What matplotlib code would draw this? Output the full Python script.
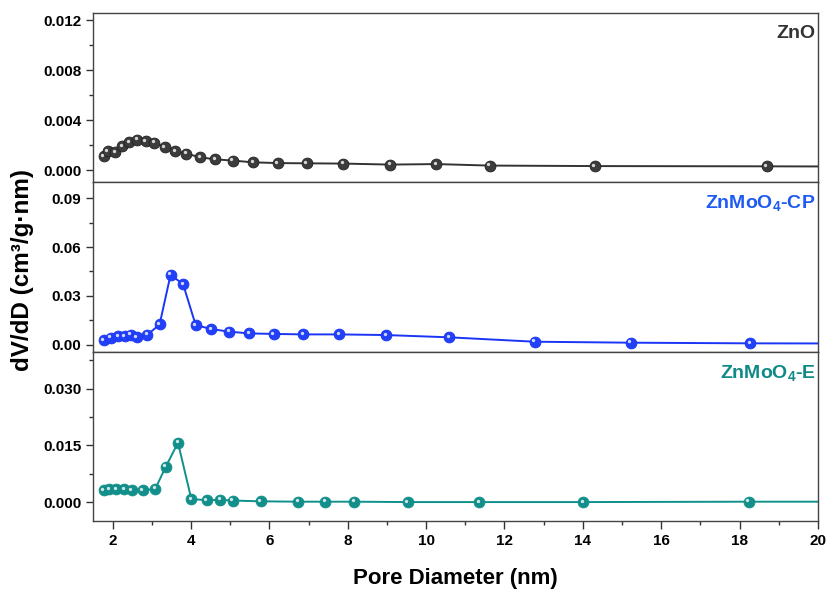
import matplotlib
matplotlib.use('Agg')
import matplotlib.pyplot as plt
from matplotlib.transforms import offset_copy
from matplotlib.ticker import MultipleLocator, FormatStrFormatter

plt.rcParams['font.family'] = ['Liberation Sans', 'DejaVu Sans']
plt.rcParams['font.weight'] = 'bold'
plt.rcParams['mathtext.fontset'] = 'custom'
plt.rcParams['mathtext.rm'] = 'Liberation Sans:bold'
plt.rcParams['mathtext.bf'] = 'Liberation Sans:bold'

# ZnO
x_zno = [1.77, 1.88, 2.07, 2.24, 2.43, 2.63, 2.85, 3.07, 3.33, 3.60, 3.88, 4.24,
         4.62, 5.07, 5.59, 6.21, 6.95, 7.88, 9.08, 10.26, 11.62, 14.30, 18.69]
y_zno = [0.00114, 0.00154, 0.00146, 0.00192, 0.00224, 0.00246, 0.00234, 0.00222,
         0.00186, 0.00154, 0.00134, 0.00104, 0.00088, 0.00078, 0.00064, 0.00058,
         0.00056, 0.00054, 0.00046, 0.00050, 0.00038, 0.00034, 0.00032]
# ZnMoO4-CP
x_cp = [1.77, 1.95, 2.14, 2.31, 2.46, 2.62, 2.89, 3.20, 3.48, 3.80, 4.12, 4.51,
        4.97, 5.49, 6.11, 6.86, 7.78, 8.98, 10.59, 12.77, 15.22, 18.27]
y_cp = [0.0029, 0.0043, 0.0051, 0.0051, 0.0061, 0.0047, 0.0061, 0.0124, 0.0429,
        0.0372, 0.0121, 0.0096, 0.0080, 0.0069, 0.0066, 0.0063, 0.0063, 0.0059,
        0.0045, 0.0018, 0.0012, 0.0008]
# ZnMoO4-E
x_e = [1.77, 1.92, 2.10, 2.29, 2.49, 2.77, 3.09, 3.36, 3.67, 4.01, 4.40, 4.74,
       5.07, 5.78, 6.73, 7.43, 8.17, 9.53, 11.36, 14.01, 18.23]
y_e = [0.0031, 0.0034, 0.0034, 0.0034, 0.0032, 0.0031, 0.0035, 0.0094, 0.0157,
       0.0008, 0.0005, 0.0006, 0.0004, 0.0002, 0.0001, 0.0001, 0.0001, 0.0,
       0.0, 0.0, 0.0001]
# last point past 20 nm, line runs off the right edge
tail_x = 24.0
tail = [0.00028, 0.0006, 0.0001]

panels = [
    (x_zno, y_zno, '#333333', '#3c3c3c', 'ZnO', '#333333',
     (-0.00096, 0.0126), 0.004, '%.3f'),
    (x_cp, y_cp, '#1a35f5', '#2140f8', 'ZnMoO$_4$-CP', '#1f5af2',
     (-0.0043, 0.0998), 0.03, '%.2f'),
    (x_e, y_e, '#10908b', '#128f8a', 'ZnMoO$_4$-E', '#0f8a86',
     (-0.005, 0.0398), 0.015, '%.3f'),
]

fig = plt.figure(figsize=(8.3, 5.9), dpi=100)
gs = fig.add_gridspec(3, 1, left=0.112, right=0.9855, top=0.978, bottom=0.117, hspace=0)

for i, (xs, ys, lc, mc, name, tc, ylim, step, fmt) in enumerate(panels):
    ax = fig.add_subplot(gs[i])
    ax.plot(xs + [tail_x], ys + [tail[i]], '-', color=lc, lw=1.4, zorder=2)
    ax.plot(xs, ys, 'o', ms=7.8, mfc=mc, mec='#222222' if i == 0 else lc, mew=0.6, zorder=3)
    hl = offset_copy(ax.transData, fig=fig, x=-1.0, y=1.0, units='points')
    ax.plot(xs, ys, 'o', ms=2.4, mfc='white', mec='none', alpha=0.8, transform=hl, zorder=4)
    ax.set_xlim(1.5, 20)
    ax.set_ylim(*ylim)
    ax.yaxis.set_major_locator(MultipleLocator(step))
    ax.yaxis.set_minor_locator(MultipleLocator(step / 2))
    ax.yaxis.set_major_formatter(FormatStrFormatter(fmt))
    ax.xaxis.set_major_locator(MultipleLocator(2))
    ax.xaxis.set_minor_locator(MultipleLocator(1))
    ax.tick_params(axis='y', which='both', direction='out', labelsize=11, width=1, color='#333333')
    ax.tick_params(axis='y', which='major', length=5)
    ax.tick_params(axis='y', which='minor', length=3)
    for s in ax.spines.values():
        s.set_color('#444444')
        s.set_linewidth(1.0)
    for lab in ax.get_yticklabels():
        lab.set_fontweight('bold')
    if i < 2:
        ax.tick_params(axis='x', which='both', bottom=False, labelbottom=False)
    else:
        ax.tick_params(axis='x', which='both', direction='out', labelsize=11, width=1, color='#333333')
        ax.tick_params(axis='x', which='major', length=6)
        ax.tick_params(axis='x', which='minor', length=3)
        for lab in ax.get_xticklabels():
            lab.set_fontweight('bold')
        ax.set_xlabel('Pore Diameter (nm)', fontsize=16, fontweight='bold', labelpad=14)
    ax.text(0.997, 0.93, name, transform=ax.transAxes, ha='right', va='top',
            fontsize=14, fontweight='bold', color=tc)

fig.text(0.027, 0.542, 'dV/dD (cm³/g·nm)', rotation=90, ha='center', va='center',
         fontsize=17.5, fontweight='bold')

fig.savefig('out.png', dpi=100)
